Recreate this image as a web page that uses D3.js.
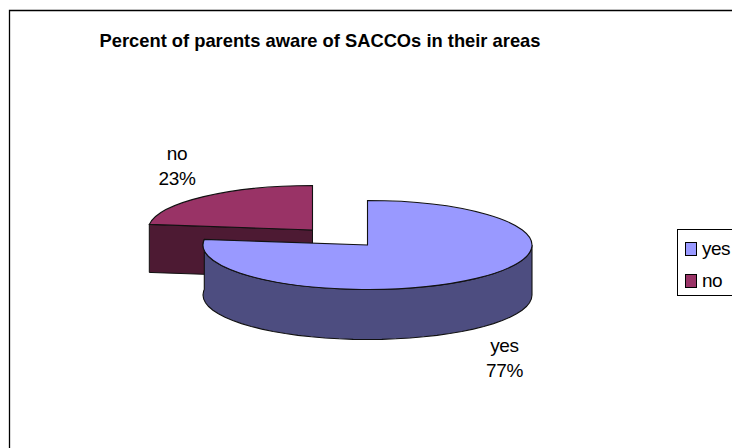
<!DOCTYPE html>
<html><head><meta charset="utf-8">
<script src="https://cdn.jsdelivr.net/npm/d3@7"></script>
<style>html,body{margin:0;background:#fff}svg{display:block}text{font-family:"Liberation Sans",Arial,sans-serif;fill:#000}</style>
</head><body><svg id="c" width="732" height="448"></svg>
<script>
const categories=["yes","no"];
const values=[77,23];
const topColors=["#9999ff","#993366"];
const sideColors=["#4d4d80","#4d1a33"];
const title="Percent of parents aware of SACCOs in their areas";
const svg=d3.select("#c");
const W=732,H=448;
// frame
svg.append("path").attr("d",`M9.5,${H}V10.5H${W}`).attr("fill","none").attr("stroke","#000").attr("stroke-width",1.3);
svg.append("text").attr("x",320).attr("y",47).attr("text-anchor","middle").attr("font-weight","bold").attr("font-size",18.5).attr("textLength",441).attr("lengthAdjust","spacingAndGlyphs").text(title);
const pie=d3.pie().sort(null).value(d=>d)(values);
const rx=164.5,ry=44.5,depths=[50,48];
const centers=[{x:367.5,y:245},{x:312.5,y:230}];
const arc=d3.arc().innerRadius(0).outerRadius(rx);
const stroke="#111";
function wall(i,a0,a1){
  const c=centers[i];
  const pts=d3.range(a0,a1,Math.PI/36).concat([a1]);
  return d3.area().x(a=>c.x+rx*Math.sin(a)).y0(a=>c.y-ry*Math.cos(a)).y1(a=>c.y-ry*Math.cos(a)+depths[i])(pts);
}
const ends=i=>{const c=centers[i],a=pie[i];return [a.startAngle,a.endAngle].map(t=>[c.x+rx*Math.sin(t),c.y-ry*Math.cos(t)]);};
function drawTop(i){
  svg.append("path").attr("transform",`translate(${centers[i].x},${centers[i].y}) scale(1,${ry/rx})`)
    .attr("d",arc(pie[i])).attr("fill",topColors[i]).attr("stroke",stroke).attr("stroke-width",1.1).attr("vector-effect","non-scaling-stroke");
}
// "no" slice, drawn first: only its cut face shows
{
  const c=centers[1],e=ends(1)[0],line=d3.line();
  svg.append("path").attr("d",line([[e[0],e[1]],[c.x,c.y],[c.x,c.y+depths[1]],[e[0],e[1]+depths[1]]])+"Z")
    .attr("fill",sideColors[1]).attr("stroke",stroke).attr("stroke-width",1);
  drawTop(1);
}
// "yes" slice: outer wall on the front half
svg.append("path").attr("d",wall(0,Math.PI/2,pie[0].endAngle)).attr("fill",sideColors[0]).attr("stroke",stroke).attr("stroke-width",1.1);
drawTop(0);
// slice labels
const labels=[{x:504.5,y:351.5},{x:177,y:159.5}];
categories.forEach((k,i)=>{
  const t=svg.append("text").attr("text-anchor","middle").attr("font-size",19).attr("letter-spacing",-0.3);
  t.append("tspan").attr("x",labels[i].x).attr("y",labels[i].y).text(k);
  t.append("tspan").attr("x",labels[i].x).attr("y",labels[i].y+25.5).text(values[i]+"%");
});
// legend
const leg=svg.append("g");
leg.append("rect").attr("x",677.5).attr("y",229.5).attr("width",60).attr("height",66).attr("fill","#fff").attr("stroke","#000");
const legY=d3.scalePoint().domain(categories).range([242.5,274.5]);
categories.forEach((k,i)=>{
  const y=legY(k);
  leg.append("rect").attr("x",685.5).attr("y",y).attr("width",11).attr("height",13).attr("fill",topColors[i]).attr("stroke","#000");
  leg.append("text").attr("x",702).attr("y",y+12.5).attr("font-size",19).attr("letter-spacing",-0.5).text(k);
});
</script></body></html>
